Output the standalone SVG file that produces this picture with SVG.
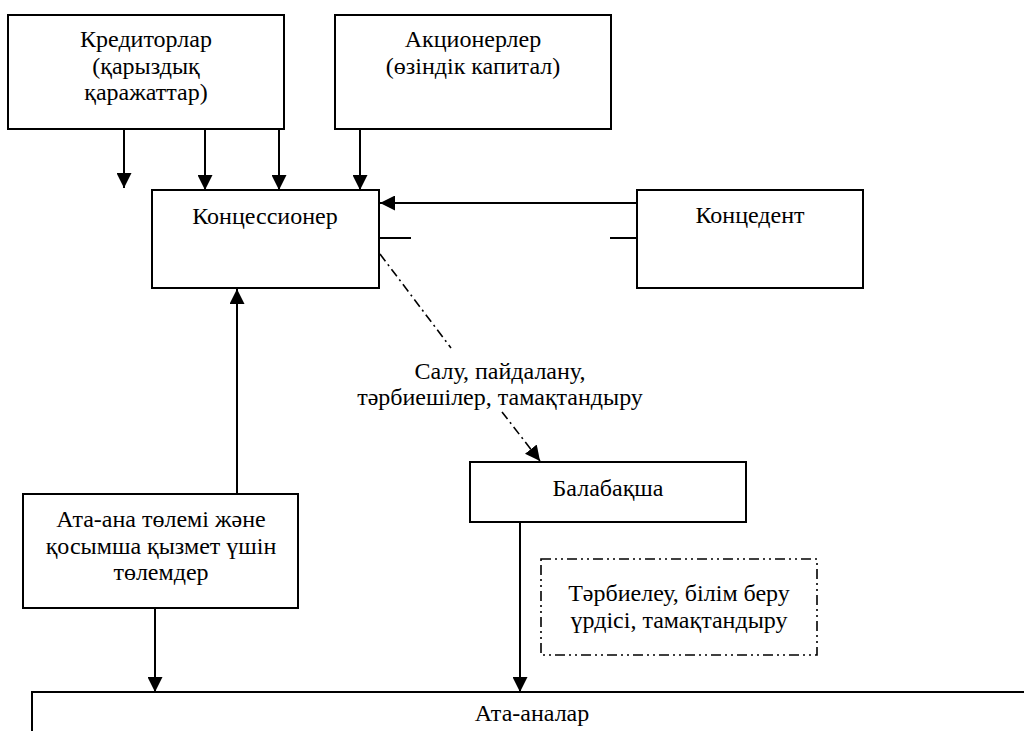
<svg xmlns="http://www.w3.org/2000/svg" width="1024" height="731" viewBox="0 0 1024 731">
<style>
.box{fill:#fff;stroke:#000;stroke-width:2}
text{font-family:'Liberation Serif','Times New Roman','DejaVu Serif',serif;font-size:24px;fill:#000;text-anchor:middle}
.ln{stroke:#000;stroke-width:2;fill:none}
.dd{stroke:#000;stroke-width:1.6;fill:none;stroke-dasharray:9 4 2 4}
.ddd{stroke:#000;stroke-width:1.6;fill:none;stroke-dasharray:10 4 2 4 2 4}
</style>
<defs>
<marker id="ah" markerUnits="userSpaceOnUse" viewBox="0 0 15 15" refX="15" refY="7.5" markerWidth="15" markerHeight="15" orient="auto">
<path d="M0,0 L15,7.5 L0,15 z" fill="#000"/>
</marker>
</defs>
<rect width="1024" height="731" fill="#fff"/>
<g font-family="Liberation Serif, Times New Roman, DejaVu Serif, serif" font-size="24">
<g id="kreditorlar">
<rect class="box" x="8" y="15" width="276" height="114"/>
<text x="146" y="47">Кредиторлар</text>
<text x="146" y="74">(қарыздық</text>
<text x="146" y="100">қаражаттар)</text>
</g>
<g id="aktsionerler">
<rect class="box" x="335" y="15" width="276" height="114"/>
<text x="473" y="47">Акционерлер</text>
<text x="473" y="74">(өзіндік капитал)</text>
</g>
<g id="kontsessioner">
<rect class="box" x="152" y="190" width="227" height="98"/>
<text x="265" y="224">Концессионер</text>
</g>
<g id="kontsedent">
<rect class="box" x="637" y="190" width="226" height="98"/>
<text x="750" y="223">Концедент</text>
</g>
<g id="balabaksha">
<rect class="box" x="470" y="462" width="276" height="60"/>
<text x="608" y="496">Балабақша</text>
</g>
<g id="ata-ana-tolemi">
<rect class="box" x="23" y="494" width="275" height="114"/>
<text x="161" y="527">Ата-ана төлемі және</text>
<text x="161" y="554">қосымша қызмет үшін</text>
<text x="161" y="580">төлемдер</text>
</g>
<g id="ata-analar">
<rect class="box" x="32" y="692" width="1004" height="60"/>
<text x="532" y="721">Ата-аналар</text>
</g>
<g id="tarbieleu">
<rect class="ddd" x="541" y="559" width="276" height="96"/>
<text x="679" y="601">Тәрбиелеу, білім беру</text>
<text x="679" y="628">үрдісі, тамақтандыру</text>
</g>
<g id="salu-label">
<text x="500" y="379">Салу, пайдалану,</text>
<text x="500" y="405">тәрбиешілер, тамақтандыру</text>
</g>
</g>
<g id="connectors">
<line class="ln" x1="124" y1="129" x2="124" y2="188" marker-end="url(#ah)"/>
<line class="ln" x1="205" y1="129" x2="205" y2="190" marker-end="url(#ah)"/>
<line class="ln" x1="279" y1="129" x2="279" y2="190" marker-end="url(#ah)"/>
<line class="ln" x1="360" y1="129" x2="360" y2="190" marker-end="url(#ah)"/>
<line class="ln" x1="637" y1="203" x2="380" y2="203" marker-end="url(#ah)"/>
<line class="ln" x1="379" y1="238" x2="411" y2="238"/>
<line class="ln" x1="610" y1="238" x2="637" y2="238"/>
<line class="dd" x1="380" y1="254" x2="451" y2="348"/>
<line class="dd" x1="502" y1="412" x2="540" y2="461" marker-end="url(#ah)"/>
<line class="ln" x1="237" y1="494" x2="237" y2="289" marker-end="url(#ah)"/>
<line class="ln" x1="155" y1="608" x2="155" y2="692" marker-end="url(#ah)"/>
<line class="ln" x1="520" y1="522" x2="520" y2="692" marker-end="url(#ah)"/>
</g>
</svg>
